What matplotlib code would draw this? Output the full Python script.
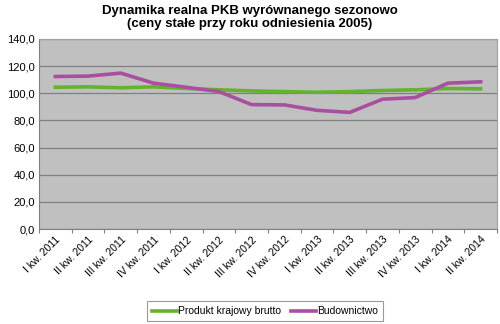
import matplotlib

matplotlib.use("Agg")

import matplotlib.pyplot as plt  # noqa: E402
import numpy as np  # noqa: E402

plt.rcParams["font.family"] = ["Liberation Sans", "DejaVu Sans"]

# quarter labels and series
quarters = [
    "I kw. 2011", "II kw. 2011", "III kw. 2011", "IV kw. 2011",
    "I kw. 2012", "II kw. 2012", "III kw. 2012", "IV kw. 2012",
    "I kw. 2013", "II kw. 2013", "III kw. 2013", "IV kw. 2013",
    "I kw. 2014", "II kw. 2014",
]
pkb = [104.4, 104.7, 104.0, 104.7, 103.5, 102.5, 101.7, 101.2,
       100.7, 101.2, 102.0, 102.5, 103.5, 103.2]
budownictwo = [112.3, 112.6, 114.8, 107.4, 104.4, 101.2, 91.6, 91.4,
               87.4, 85.9, 95.6, 96.8, 107.4, 108.4]
y_ticks = [0, 20, 40, 60, 80, 100, 120, 140]

fig = plt.figure(figsize=(5.0, 3.24), dpi=100)
ax = fig.add_axes([0.078, 0.293, 0.916, 0.587])
ax.set_facecolor("#c0c0c0")

x = np.arange(len(quarters))
ax.plot(x, pkb, color="#66b22e", lw=2.6, label="Produkt krajowy brutto", zorder=3)
ax.plot(x, budownictwo, color="#a8509f", lw=2.6, label="Budownictwo", zorder=3)

ax.set_xlim(-0.5, len(quarters) - 0.5)
ax.set_ylim(0, 140)
ax.set_yticks(y_ticks)
ax.set_yticklabels([f"{v:.1f}".replace(".", ",") for v in y_ticks], fontsize=8)
ax.yaxis.grid(True, color="#808080", lw=0.9)
ax.set_axisbelow(True)
ax.tick_params(axis="y", length=0, pad=3)

ax.set_xticks(np.arange(len(quarters) + 1) - 0.5, minor=False)
ax.set_xticklabels([])
ax.set_xticks(x, minor=True)
ax.set_xticklabels(quarters, minor=True, rotation=45, ha="right",
                   rotation_mode="anchor", fontsize=7.5)
ax.tick_params(axis="x", which="major", length=3, color="#808080")
ax.tick_params(axis="x", which="minor", length=0, pad=4)

for side in ["top", "right"]:
    ax.spines[side].set_color("#a0a0a0")
for side in ["left", "bottom"]:
    ax.spines[side].set_color("#808080")

fig.text(0.5, 0.985, "Dynamika realna PKB wyrównanego sezonowo\n(ceny stałe przy roku odniesienia 2005)",
         ha="center", va="top", fontsize=9.5, fontweight="bold", linespacing=1.1)

leg = fig.legend(loc="lower center", bbox_to_anchor=(0.53, 0.0), ncol=2,
                 fontsize=7.5, frameon=True, fancybox=False, edgecolor="#808080",
                 handlelength=2.4, handletextpad=0.1, columnspacing=0.9,
                 borderpad=0.5, borderaxespad=0.25)
leg.get_frame().set_linewidth(0.8)

fig.savefig("out.png", dpi=100)
